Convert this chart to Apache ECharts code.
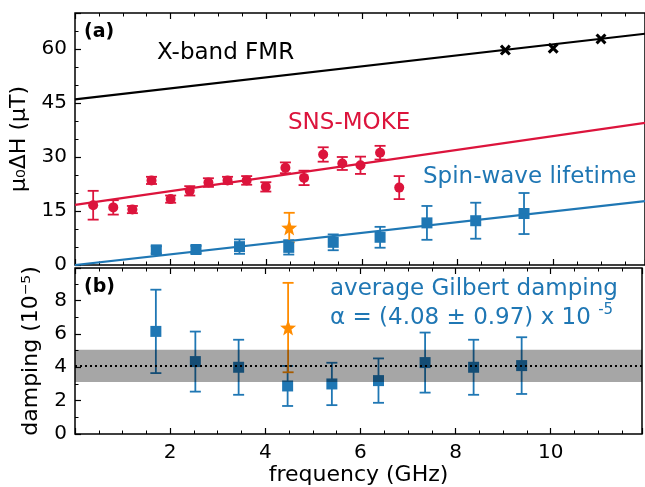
<!DOCTYPE html>
<html>
<head>
<meta charset="utf-8">
<script src="https://cdn.jsdelivr.net/npm/echarts@6/dist/echarts.min.js"></script>
<style>
html, body { margin: 0; padding: 0; background: #fff; }
#chart { width: 645px; height: 487px; }
</style>
</head>
<body>
<div id="chart"></div>
<script>
// panel (a): linewidth in uT vs frequency
var mokeFreq = [0.38, 0.80, 1.20, 1.60, 2.00, 2.40, 2.79, 3.19, 3.59, 3.99, 4.40, 4.79, 5.19, 5.59, 5.97, 6.38, 6.78];
var mokeVal = [16.6, 16.0, 15.4, 23.5, 18.3, 20.6, 22.9, 23.5, 23.5, 21.7, 27.0, 24.2, 30.7, 28.2, 27.7, 31.2, 21.5];
var mokeErr = [4.0, 2.0, 1.0, 1.0, 1.0, 1.3, 1.2, 1.0, 1.2, 1.3, 1.5, 2.0, 2.0, 1.8, 2.4, 1.9, 3.2];

var swFreq = [1.70, 2.53, 3.44, 4.47, 5.40, 6.38, 7.36, 8.38, 9.39];
var swVal = [4.2, 4.3, 5.1, 4.9, 6.3, 7.7, 11.7, 12.3, 14.3];
var swErr = [1.0, 1.0, 2.0, 2.0, 2.2, 2.9, 4.7, 5.0, 5.7];

var fmrFreq = [9.0, 10.0, 11.0];
var fmrVal = [59.7, 60.2, 62.8];

var starFreq = [4.48];
var starVal = [10.4];
var starErr = [4.1];

// fits: [intercept, slope]
var fmrFit = [46.0, 1.53];
var mokeFit = [16.7, 1.91];
var swFit = [0.0, 1.49];

// panel (b): damping (1e-5)
var dampVal = [6.15, 4.34, 4.00, 2.88, 3.00, 3.20, 4.28, 4.00, 4.10];
var dampErr = [2.5, 1.8, 1.65, 1.2, 1.27, 1.33, 1.8, 1.65, 1.7];
var starDamp = [6.38];
var starDampErr = [2.68];
var avgDamp = 4.08;
var avgDampErr = 0.97;

var xMax = 11.92;
var RED = '#dc143c';
var BLUE = '#1f77b4';
var ORANGE = '#ff8c00';
var FONT = 'DejaVu Sans';

function starPath() {
    var pts = [];
    for (var i = 0; i < 10; i++) {
        var r = i % 2 === 0 ? 10 : 4.2;
        var a = -Math.PI / 2 + i * Math.PI / 5;
        pts.push((10 + r * Math.cos(a)).toFixed(2) + ',' + (10 + r * Math.sin(a)).toFixed(2));
    }
    return 'path://M' + pts.join(' L') + ' Z';
}
var crossPath = 'path://M2,0 L5,3 L8,0 L10,2 L7,5 L10,8 L8,10 L5,7 L2,10 L0,8 L3,5 L0,2 Z';

function zip(xs, ys, es) {
    return xs.map(function (x, i) {
        return es ? [x, ys[i], es[i]] : [x, ys[i]];
    });
}

function errSeries(xs, ys, es, color, idx) {
    return {
        type: 'custom',
        xAxisIndex: idx,
        yAxisIndex: idx,
        data: zip(xs, ys, es),
        encode: { x: 0, y: 1 },
        z: 3,
        renderItem: function (params, api) {
            var x = api.value(0), y = api.value(1), e = api.value(2);
            var lo = api.coord([x, y - e]);
            var hi = api.coord([x, y + e]);
            var c = 5.5;
            var st = { stroke: color, lineWidth: 1.8 };
            return {
                type: 'group',
                children: [
                    { type: 'line', shape: { x1: lo[0], y1: lo[1], x2: hi[0], y2: hi[1] }, style: st },
                    { type: 'line', shape: { x1: lo[0] - c, y1: lo[1], x2: lo[0] + c, y2: lo[1] }, style: st },
                    { type: 'line', shape: { x1: hi[0] - c, y1: hi[1], x2: hi[0] + c, y2: hi[1] }, style: st }
                ]
            };
        }
    };
}

function scatter(xs, ys, color, symbol, size, idx) {
    return {
        type: 'scatter',
        xAxisIndex: idx,
        yAxisIndex: idx,
        data: zip(xs, ys),
        symbol: symbol,
        symbolSize: size,
        itemStyle: { color: color, opacity: 1 },
        z: 4
    };
}

function fitLine(fit, color) {
    return {
        type: 'line',
        xAxisIndex: 0,
        yAxisIndex: 0,
        data: [[0, fit[0]], [xMax, fit[0] + fit[1] * xMax]],
        showSymbol: false,
        lineStyle: { color: color, width: 2.2 },
        z: 5
    };
}

var tickStyle = { inside: true, length: 6, lineStyle: { color: '#000', width: 1.2 } };
var minorStyle = function (n) {
    return { show: true, splitNumber: n, length: 3.5, lineStyle: { color: '#000', width: 1 } };
};

function xAx(gi, pos, labels) {
    return {
        type: 'value',
        gridIndex: gi,
        position: pos,
        min: 0,
        max: xMax,
        interval: 2,
        axisLine: { show: false },
        axisTick: tickStyle,
        minorTick: minorStyle(4),
        splitLine: { show: false },
        axisLabel: {
            show: labels,
            color: '#000',
            fontFamily: FONT,
            fontSize: 20,
            margin: 9,
            formatter: function (v) {
                return (v > 0 && v <= 10 && v % 2 === 0) ? String(v) : '';
            }
        },
        name: labels ? 'frequency (GHz)' : '',
        nameLocation: 'middle',
        nameGap: 29,
        nameTextStyle: { color: '#000', fontFamily: FONT, fontSize: 22 }
    };
}

function yAx(gi, max, interval, minor, name) {
    return {
        type: 'value',
        gridIndex: gi,
        min: 0,
        max: max,
        interval: interval,
        axisLine: { show: false },
        axisTick: tickStyle,
        minorTick: minorStyle(minor),
        splitLine: { show: false },
        axisLabel: {
            color: '#000',
            fontFamily: FONT,
            fontSize: 20,
            margin: 8,
            formatter: function (v) {
                return (v % interval === 0) ? String(v) : '';
            }
        },
        name: name,
        nameLocation: 'middle',
        nameGap: 33,
        nameTextStyle: { color: '#000', fontFamily: FONT, fontSize: 22 }
    };
}

var chart = echarts.init(document.getElementById('chart'));
chart.setOption({
    animation: false,
    backgroundColor: '#fff',
    grid: [
        { left: 75, top: 13, width: 572, height: 252, show: true, borderColor: '#000', borderWidth: 1.5, backgroundColor: 'transparent' },
        { left: 75, top: 268, width: 572, height: 166, show: true, borderColor: '#000', borderWidth: 1.5, backgroundColor: 'transparent' }
    ],
    xAxis: [xAx(0, 'bottom', false), xAx(1, 'bottom', true), xAx(0, 'top', false), xAx(1, 'top', false)],
    yAxis: [yAx(0, 70, 15, 3, 'μ₀ΔH (μT)'), yAx(1, 9.95, 2, 2, 'damping (10⁻⁵)')],
    series: [
        fitLine(fmrFit, '#000'),
        fitLine(mokeFit, RED),
        fitLine(swFit, BLUE),
        scatter(fmrFreq, fmrVal, '#000', crossPath, 11, 0),
        errSeries(mokeFreq, mokeVal, mokeErr, RED, 0),
        scatter(mokeFreq, mokeVal, RED, 'circle', 10, 0),
        errSeries(swFreq, swVal, swErr, BLUE, 0),
        scatter(swFreq, swVal, BLUE, 'rect', 11, 0),
        errSeries(starFreq, starVal, starErr, ORANGE, 0),
        scatter(starFreq, starVal, ORANGE, starPath(), 16, 0),

        errSeries(swFreq, dampVal, dampErr, BLUE, 1),
        scatter(swFreq, dampVal, BLUE, 'rect', 11, 1),
        errSeries(starFreq, starDamp, starDampErr, ORANGE, 1),
        scatter(starFreq, starDamp, ORANGE, starPath(), 16, 1),
        {
            type: 'custom',
            xAxisIndex: 1,
            yAxisIndex: 1,
            data: [[0, avgDamp - avgDampErr, avgDamp + avgDampErr]],
            z: 10,
            renderItem: function (params, api) {
                var a = api.coord([0, api.value(2)]);
                var b = api.coord([xMax, api.value(1)]);
                return {
                    type: 'rect',
                    shape: { x: a[0], y: a[1], width: b[0] - a[0], height: b[1] - a[1] },
                    style: { fill: 'rgba(0,0,0,0.35)' }
                };
            }
        },
        {
            type: 'line',
            xAxisIndex: 1,
            yAxisIndex: 1,
            data: [[0, avgDamp], [xMax, avgDamp]],
            showSymbol: false,
            lineStyle: { color: '#000', width: 2, type: [2, 3] },
            z: 11
        }
    ],
    graphic: [
        { type: 'text', x: 84, y: 32, style: { text: '(a)', font: 'bold 19px "DejaVu Sans"', fill: '#000', verticalAlign: 'middle' } },
        { type: 'text', x: 84, y: 287, style: { text: '(b)', font: 'bold 19px "DejaVu Sans"', fill: '#000', verticalAlign: 'middle' } },
        { type: 'text', x: 157, y: 53, style: { text: 'X-band FMR', font: '23px "DejaVu Sans"', fill: '#000', verticalAlign: 'middle' } },
        { type: 'text', x: 288, y: 123, style: { text: 'SNS-MOKE', font: '23px "DejaVu Sans"', fill: RED, verticalAlign: 'middle' } },
        { type: 'text', x: 423, y: 177, style: { text: 'Spin-wave lifetime', font: '23px "DejaVu Sans"', fill: BLUE, verticalAlign: 'middle' } },
        { type: 'text', x: 330, y: 289, style: { text: 'average Gilbert damping', font: '23px "DejaVu Sans"', fill: BLUE, verticalAlign: 'middle' } },
        {
            type: 'text', x: 330, y: 318,
            style: {
                text: '{m|α = (4.08 ± 0.97) x 10 }{s|-5}',
                verticalAlign: 'middle',
                rich: {
                    m: { font: '23px "DejaVu Sans"', fill: BLUE, color: BLUE },
                    s: { font: '15px "DejaVu Sans"', fill: BLUE, color: BLUE, verticalAlign: 'top', padding: [0, 0, 16, 0] }
                }
            }
        }
    ]
});
</script>
</body>
</html>
